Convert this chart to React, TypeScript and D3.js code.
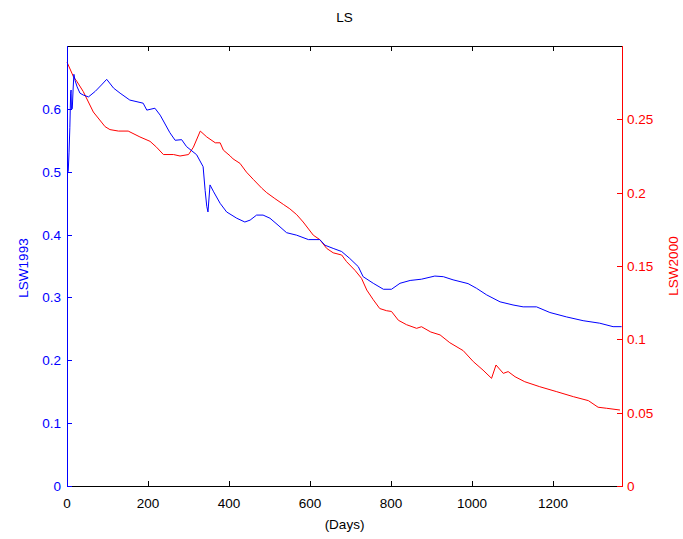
import React from "react";
import * as d3 from "d3";

const title = "LS";
const xLabel = "(Days)";
const leftLabel = "LSW1993";
const rightLabel = "LSW2000";

const xTicks = [0, 200, 400, 600, 800, 1000, 1200];
const leftTicks = [0, 0.1, 0.2, 0.3, 0.4, 0.5, 0.6];
const rightTicks = [0, 0.05, 0.1, 0.15, 0.2, 0.25];

const days1993 = [0, 3, 5, 7, 9, 10, 11, 13, 15, 17, 20, 25, 32, 40, 53, 70, 85, 98, 115, 131, 155, 188, 197, 217, 230, 254, 267, 283, 295, 320, 336, 341, 345, 348, 353, 362, 378, 394, 419, 439, 452, 468, 484, 501, 521, 542, 567, 596, 624, 637, 657, 678, 698, 719, 731, 756, 781, 801, 822, 847, 875, 908, 929, 953, 990, 1011, 1036, 1069, 1101, 1126, 1159, 1192, 1233, 1274, 1315, 1348, 1369];
const lsw1993 = [0.5, 0.5, 0.53, 0.57, 0.625, 0.63, 0.6, 0.6, 0.63, 0.655, 0.645, 0.635, 0.625, 0.622, 0.619, 0.628, 0.638, 0.647, 0.633, 0.625, 0.614, 0.609, 0.598, 0.601, 0.59, 0.562, 0.55, 0.551, 0.54, 0.527, 0.508, 0.47, 0.445, 0.436, 0.479, 0.468, 0.4497, 0.436, 0.426, 0.42, 0.423, 0.431, 0.431, 0.426, 0.415, 0.403, 0.399, 0.392, 0.392, 0.383, 0.378, 0.373, 0.362, 0.349, 0.333, 0.3225, 0.313, 0.313, 0.3225, 0.327, 0.329, 0.334, 0.333, 0.328, 0.322, 0.3145, 0.304, 0.293, 0.288, 0.285, 0.285, 0.276, 0.269, 0.263, 0.259, 0.2535, 0.2535];

const days2000 = [0, 16, 24, 40, 65, 94, 106, 127, 151, 180, 205, 221, 238, 263, 279, 300, 312, 329, 345, 366, 378, 386, 403, 410, 427, 443, 460, 481, 493, 513, 534, 550, 567, 583, 608, 624, 641, 657, 678, 690, 711, 727, 740, 756, 772, 789, 801, 818, 838, 863, 875, 898, 921, 945, 978, 1003, 1027, 1048, 1059, 1077, 1089, 1106, 1130, 1167, 1209, 1250, 1287, 1311, 1332, 1365];
const lsw2000 = [0.289, 0.279, 0.276, 0.269, 0.255, 0.245, 0.243, 0.242, 0.242, 0.238, 0.235, 0.231, 0.226, 0.226, 0.225, 0.226, 0.231, 0.242, 0.238, 0.234, 0.234, 0.229, 0.225, 0.223, 0.22, 0.214, 0.209, 0.203, 0.2, 0.196, 0.192, 0.189, 0.185, 0.18, 0.171, 0.168, 0.162, 0.159, 0.1575, 0.153, 0.147, 0.1416, 0.1336, 0.127, 0.121, 0.1195, 0.119, 0.113, 0.11, 0.1075, 0.1086, 0.105, 0.103, 0.0977, 0.0923, 0.0848, 0.079, 0.0734, 0.0825, 0.0768, 0.078, 0.0745, 0.0711, 0.0677, 0.0643, 0.0609, 0.0582, 0.0537, 0.053, 0.0518];

const W = 683;
const H = 539;
const L = 67;
const R = 622;
const T = 46;
const B = 486;
const BLUE = "#0000ff";
const RED = "#ff0000";
const FONT = "'Liberation Sans', Arial, sans-serif";

export default function App() {
  const x = d3.scaleLinear().domain([0, 1370]).range([L, R]);
  const yL = d3.scaleLinear().domain([0, 0.7]).range([B, T]);
  const yR = d3.scaleLinear().domain([0, 0.3]).range([B, T]);

  const lineL = d3
    .line<number>()
    .x((_, i) => x(days1993[i]))
    .y((d) => yL(d));
  const lineR = d3
    .line<number>()
    .x((_, i) => x(days2000[i]))
    .y((d) => yR(d));

  const tl = 5;
  const fmt = (v: number) => String(+v.toFixed(2));

  return (
    <svg
      width={W}
      height={H}
      style={{ position: "absolute", left: 0, top: 0, background: "#fff" }}
      fontFamily={FONT}
      fontSize={13.5}
    >
      <rect x={0} y={0} width={W} height={H} fill="#fff" />
      {/* data lines */}
      <path d={lineR(lsw2000) || ""} fill="none" stroke={RED} strokeWidth={1} />
      <path d={lineL(lsw1993) || ""} fill="none" stroke={BLUE} strokeWidth={1} />

      {/* top and bottom axes */}
      <line x1={L} x2={R} y1={B + 0.5} y2={B + 0.5} stroke="#000" />
      <line x1={L} x2={R} y1={T + 0.5} y2={T + 0.5} stroke="#000" />
      {xTicks.map((t) => (
        <g key={"x" + t}>
          <line x1={Math.round(x(t)) + 0.5} x2={Math.round(x(t)) + 0.5} y1={B} y2={B - tl} stroke="#000" />
          <line x1={Math.round(x(t)) + 0.5} x2={Math.round(x(t)) + 0.5} y1={T} y2={T + tl} stroke="#000" />
          <text x={x(t)} y={B + 22} textAnchor="middle" fill="#000">
            {t}
          </text>
        </g>
      ))}

      {/* left axis */}
      <line x1={L + 0.5} x2={L + 0.5} y1={T} y2={B + 1} stroke={BLUE} />
      {leftTicks.map((t) => (
        <g key={"l" + t}>
          <line x1={L} x2={L + tl} y1={Math.round(yL(t)) + 0.5} y2={Math.round(yL(t)) + 0.5} stroke={BLUE} />
          <text x={L - 6} y={yL(t) + 5} textAnchor="end" fill={BLUE}>
            {fmt(t)}
          </text>
        </g>
      ))}

      {/* right axis */}
      <line x1={R + 0.5} x2={R + 0.5} y1={T} y2={B + 1} stroke={RED} />
      {rightTicks.map((t) => (
        <g key={"r" + t}>
          <line x1={R - tl} x2={R + 1} y1={Math.round(yR(t)) + 0.5} y2={Math.round(yR(t)) + 0.5} stroke={RED} />
          <text x={R + 5} y={yR(t) + 5} textAnchor="start" fill={RED}>
            {fmt(t)}
          </text>
        </g>
      ))}

      {/* labels */}
      <text x={(L + R) / 2} y={22} textAnchor="middle" fill="#000">
        {title}
      </text>
      <text x={(L + R) / 2} y={529} textAnchor="middle" fill="#000">
        {xLabel}
      </text>
      <text
        transform={`translate(28, ${(T + B) / 2 + 2}) rotate(-90)`}
        textAnchor="middle"
        fill={BLUE}
      >
        {leftLabel}
      </text>
      <text
        transform={`translate(678, ${(T + B) / 2}) rotate(-90)`}
        textAnchor="middle"
        fill={RED}
      >
        {rightLabel}
      </text>
    </svg>
  );
}
